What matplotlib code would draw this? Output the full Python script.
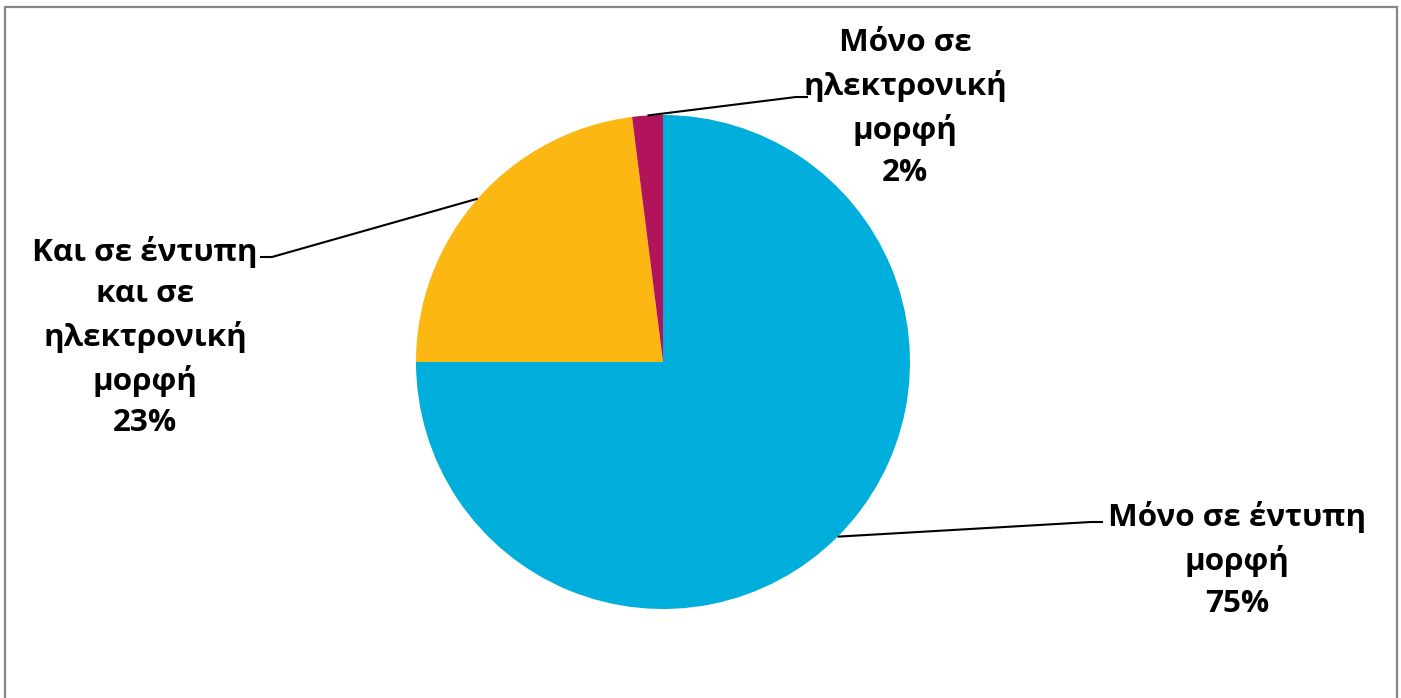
import numpy as np
import matplotlib.pyplot as plt
from matplotlib.patches import Rectangle

labels = ['Μόνο σε έντυπη\nμορφή', 'Και σε έντυπη\nκαι σε\nηλεκτρονική\nμορφή', 'Μόνο σε\nηλεκτρονική\nμορφή']
shares = [75, 23, 2]
colors = ['#00AEDB', '#FDB713', '#B1145A']

# label box centres and leader-line knee points (pixels, y down)
label_pos = [(1237, 560), (145, 337), (905, 108)]
knee_pos = [(1103, 522), (260, 257), (808, 97)]

W, H = 1401, 698
fig = plt.figure(figsize=(W / 100, H / 100), dpi=100)
ax = fig.add_axes([0, 0, 1, 1])

cx, cy, r = 663, H - 362, 247
wedges, _ = ax.pie(shares, colors=colors, startangle=90, counterclock=False,
                   center=(cx, cy), radius=r, frame=True,
                   wedgeprops=dict(linewidth=0))
ax.set_xlim(0, W)
ax.set_ylim(0, H)
ax.set_aspect('equal')
ax.axis('off')

font = dict(family=['Open Sans', 'DejaVu Sans'], fontweight='bold', fontsize=22.6)
for w, lab, share, (lx, ly), (kx, ky) in zip(wedges, labels, shares, label_pos, knee_pos):
    mid = np.deg2rad((w.theta1 + w.theta2) / 2)
    px, py = cx + r * np.cos(mid), cy + r * np.sin(mid)
    ax.text(lx, H - ly, f'{lab}\n{share}%', ha='center', va='center',
            multialignment='center', linespacing=1.48, **font)
    # slanted part then short horizontal tail at the text
    tail = -12 if kx > px else 12
    ax.plot([px, kx + tail, kx], [py, H - ky, H - ky], color='black', lw=1.5,
            solid_capstyle='butt')

fig.patches.append(Rectangle((4.5 / W, -0.02), (1396.5 - 4.5) / W, 1.02 - 7 / H,
                             transform=fig.transFigure, fill=False,
                             edgecolor='#868686', linewidth=1.6))

fig.savefig('out.png', dpi=100)
